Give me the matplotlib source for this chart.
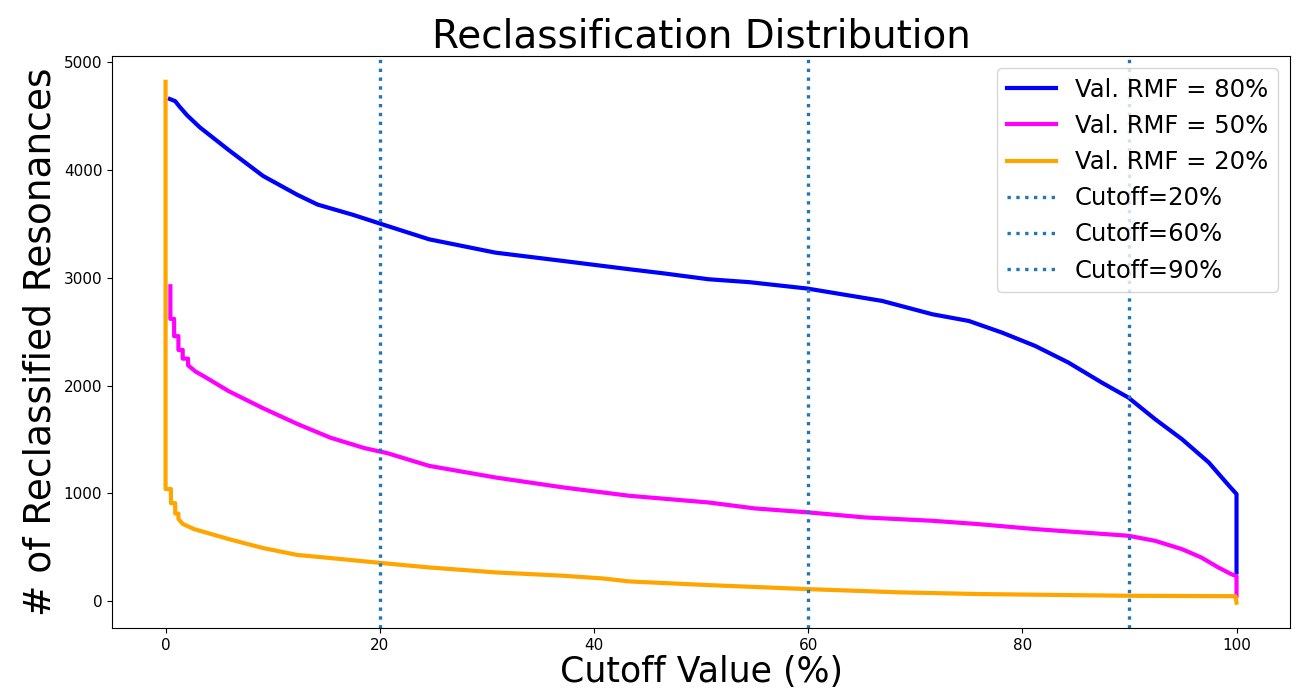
import matplotlib
matplotlib.use("Agg")
import matplotlib.pyplot as plt

# ---- data ----
blue_x = [0.4, 0.9, 1.3, 2.0, 3.2, 5.9, 9.1, 12.3, 14.2, 17.5, 20.7, 24.6, 30.8, 37.1, 43.3,
          46.4, 50.7, 54.5, 59.9, 66.9, 71.6, 75.0, 78.1, 81.2, 84.3, 87.4, 89.9,
          92.4, 94.9, 97.4, 99.3, 100.0, 100.0]
blue_y = [4660, 4640, 4590, 4510, 4397, 4186, 3946, 3771, 3680, 3585, 3482, 3358, 3234,
          3157, 3080, 3043, 2987, 2960, 2901, 2786, 2662, 2600, 2492, 2368, 2214, 2029,
          1889, 1688, 1503, 1287, 1070, 993, 266]

mag_x = [0.45, 0.45, 0.8, 0.8, 1.2, 1.2, 1.6, 1.6, 2.1, 2.1, 2.8, 3.5, 5.9, 9.1, 12.3,
         15.4, 18.6, 20.7, 24.6, 30.8, 37.1, 43.3, 50.7, 55.0, 60.0, 65.3, 71.6, 75.9,
         81.2, 89.9, 92.4, 94.9, 96.7, 98.3, 99.5, 100.0, 100.0]
mag_y = [2922, 2619, 2619, 2459, 2459, 2331, 2331, 2250, 2250, 2189, 2130, 2091, 1948,
         1790, 1644, 1516, 1419, 1373, 1255, 1147, 1055, 977, 915, 860, 823, 776, 745,
         714, 668, 606, 559, 482, 405, 312, 250, 230, 50]

org_x = [0.0, 0.0, 0.5, 0.5, 0.9, 0.9, 1.2, 1.2, 1.6, 2.66, 5.9, 9.1, 12.3, 15.4, 20.7,
         24.6, 30.8, 37.1, 40.8, 43.3, 50.7, 59.9, 68.5, 75.9, 89.9, 99.9, 100.0]
org_y = [4820, 1040, 1040, 909, 909, 812, 812, 763, 716, 668, 575, 492, 428, 399, 348,
         312, 266, 235, 210, 182, 148, 111, 81, 65, 49, 45, -15]

cutoffs = [20, 60, 90]
series_labels = ["Val. RMF = 80%", "Val. RMF = 50%", "Val. RMF = 20%"]

fig = plt.figure(figsize=(13.01, 6.99), dpi=100)
ax = fig.add_axes([0.0861, 0.1016, 0.9055, 0.8184])

ax.plot(blue_x, blue_y, color="blue", lw=3, label=series_labels[0])
ax.plot(mag_x, mag_y, color="magenta", lw=3, label=series_labels[1])
ax.plot(org_x, org_y, color="orange", lw=3, label=series_labels[2])
for c in cutoffs:
    ax.axvline(c, color="#1f77b4", ls=":", lw=2.4, label=f"Cutoff={c}%")

ax.set_xlim(-5, 105)
ax.set_ylim(-250, 5060)
ax.set_xticks([0, 20, 40, 60, 80, 100])
ax.set_yticks([0, 1000, 2000, 3000, 4000, 5000])
ax.tick_params(labelsize=11)

ax.set_title("Reclassification Distribution", fontsize=28)
ax.set_xlabel("Cutoff Value (%)", fontsize=25, labelpad=2)
ax.set_ylabel("# of Reclassified Resonances", fontsize=27)
ax.legend(loc="upper right", fontsize=17.5)

fig.savefig("out.png", dpi=100)
